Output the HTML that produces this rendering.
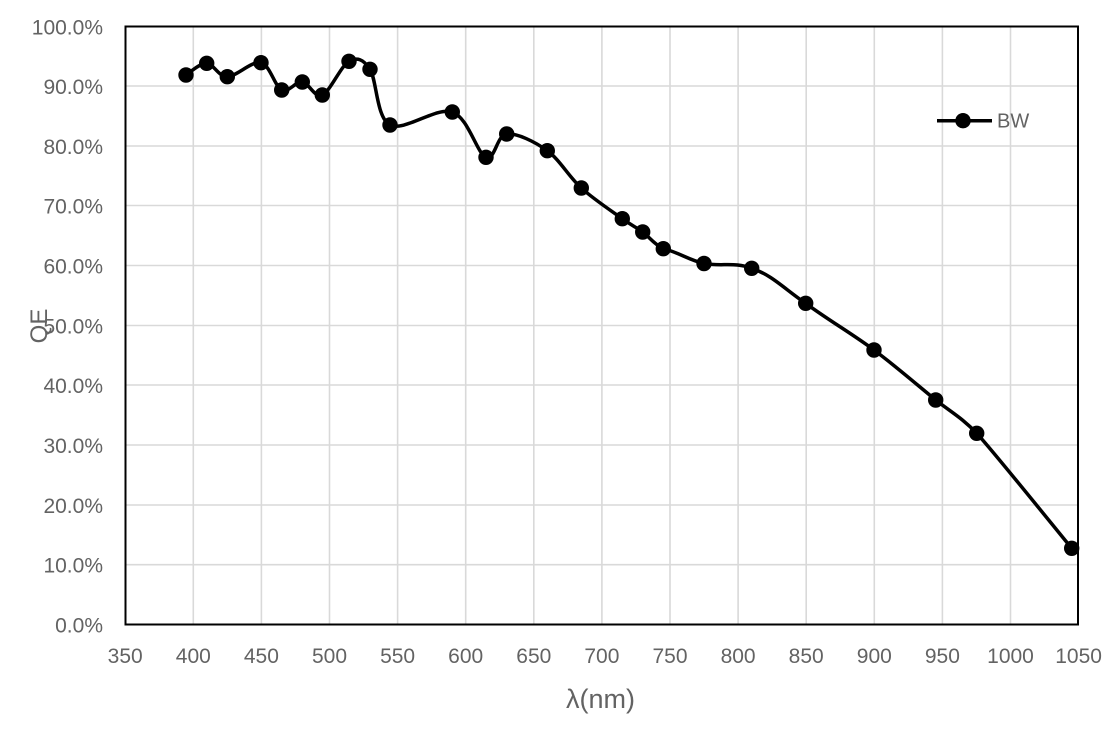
<!DOCTYPE html>
<html>
<head>
<meta charset="utf-8">
<style>
html,body{margin:0;padding:0;background:#fff;}
svg{display:block;}
text{font-family:"Liberation Sans",Arial,sans-serif;fill:#636363;}
</style>
</head>
<body>
<svg width="1110" height="738" viewBox="0 0 1110 738" xmlns="http://www.w3.org/2000/svg">
  <rect width="1110" height="738" fill="#fff"/>
  <g stroke="#d9d9d9" stroke-width="1.6">
    <line x1="193.3" y1="26" x2="193.3" y2="624.5"/>
    <line x1="261.4" y1="26" x2="261.4" y2="624.5"/>
    <line x1="329.5" y1="26" x2="329.5" y2="624.5"/>
    <line x1="397.6" y1="26" x2="397.6" y2="624.5"/>
    <line x1="465.7" y1="26" x2="465.7" y2="624.5"/>
    <line x1="533.8" y1="26" x2="533.8" y2="624.5"/>
    <line x1="601.9" y1="26" x2="601.9" y2="624.5"/>
    <line x1="670.0" y1="26" x2="670.0" y2="624.5"/>
    <line x1="738.1" y1="26" x2="738.1" y2="624.5"/>
    <line x1="806.2" y1="26" x2="806.2" y2="624.5"/>
    <line x1="874.3" y1="26" x2="874.3" y2="624.5"/>
    <line x1="942.4" y1="26" x2="942.4" y2="624.5"/>
    <line x1="1010.5" y1="26" x2="1010.5" y2="624.5"/>
    <line x1="125.5" y1="86" x2="1078" y2="86"/>
    <line x1="125.5" y1="146" x2="1078" y2="146"/>
    <line x1="125.5" y1="205.5" x2="1078" y2="205.5"/>
    <line x1="125.5" y1="265.5" x2="1078" y2="265.5"/>
    <line x1="125.5" y1="325.5" x2="1078" y2="325.5"/>
    <line x1="125.5" y1="385" x2="1078" y2="385"/>
    <line x1="125.5" y1="445" x2="1078" y2="445"/>
    <line x1="125.5" y1="505" x2="1078" y2="505"/>
    <line x1="125.5" y1="564.7" x2="1078" y2="564.7"/>
  </g>
  <rect x="125.5" y="26.5" width="952.5" height="598" fill="none" stroke="#000" stroke-width="2"/>

  <g font-size="21" text-anchor="end">
    <text x="103" y="34.5">100.0%</text>
    <text x="103" y="94">90.0%</text>
    <text x="103" y="154">80.0%</text>
    <text x="103" y="213.5">70.0%</text>
    <text x="103" y="273.5">60.0%</text>
    <text x="103" y="333.5">50.0%</text>
    <text x="103" y="393">40.0%</text>
    <text x="103" y="453">30.0%</text>
    <text x="103" y="513">20.0%</text>
    <text x="103" y="572.7">10.0%</text>
    <text x="103" y="632.5">0.0%</text>
  </g>
  <g font-size="21" text-anchor="middle">
    <text x="125.2" y="663">350</text>
    <text x="193.3" y="663">400</text>
    <text x="261.4" y="663">450</text>
    <text x="329.5" y="663">500</text>
    <text x="397.6" y="663">550</text>
    <text x="465.7" y="663">600</text>
    <text x="533.8" y="663">650</text>
    <text x="601.9" y="663">700</text>
    <text x="670.0" y="663">750</text>
    <text x="738.1" y="663">800</text>
    <text x="806.2" y="663">850</text>
    <text x="874.3" y="663">900</text>
    <text x="942.4" y="663">950</text>
    <text x="1010.5" y="663">1000</text>
    <text x="1078.6" y="663">1050</text>
  </g>
  <text x="600.5" y="708" font-size="27" text-anchor="middle">λ(nm)</text>
  <text transform="translate(47,326) rotate(-90)" font-size="24" text-anchor="middle">QE</text>

  <path fill="none" stroke="#000" stroke-width="3.5" stroke-linejoin="round" stroke-linecap="round"
    d="M186,75
    C189.45,73.05 199.82,63.02 206.7,63.3
    C213.58,63.58 218.25,76.8 227.3,76.7
    C236.35,76.6 251.93,60.48 261,62.7
    C270.07,64.92 274.82,86.78 281.7,90
    C288.58,93.22 295.53,81.17 302.3,82
    C309.07,82.83 314.52,98.45 322.3,95
    C330.08,91.55 341.05,65.58 349,61.3
    C356.95,57.02 363.17,58.68 370,69.3
    C376.83,79.92 376.28,117.88 390,125
    C403.72,132.12 436.3,106.62 452.3,112
    C468.3,117.38 476.93,153.63 486,157.3
    C495.07,160.97 496.48,135.1 506.7,134
    C516.92,132.9 534.87,141.7 547.3,150.7
    C559.73,159.7 568.8,176.67 581.3,188
    C593.8,199.33 612.07,211.37 622.3,218.7
    C632.53,226.03 635.87,227 642.7,232
    C649.53,237 653.08,243.45 663.3,248.7
    C678.03,251.97 689.27,260.23 704,263.5
    C720.95,266.77 734.75,261.67 751.7,268.3
    C772.08,274.93 785.32,289.68 805.7,303.3
    C827.37,319.42 852.33,333.88 874,350
    C895.67,366.12 918.58,386.12 935.7,400
    C950.82,411.88 962.7,418.3 976.7,433.3
    C991.7,449.3 1055.87,529.13 1071.7,548.3"/>

  <g fill="#000">
    <circle cx="186" cy="75" r="7.7"/>
    <circle cx="206.7" cy="63.3" r="7.7"/>
    <circle cx="227.3" cy="76.7" r="7.7"/>
    <circle cx="261" cy="62.7" r="7.7"/>
    <circle cx="281.7" cy="90" r="7.7"/>
    <circle cx="302.3" cy="82" r="7.7"/>
    <circle cx="322.3" cy="95" r="7.7"/>
    <circle cx="349" cy="61.3" r="7.7"/>
    <circle cx="370" cy="69.3" r="7.7"/>
    <circle cx="390" cy="125" r="7.7"/>
    <circle cx="452.3" cy="112" r="7.7"/>
    <circle cx="486" cy="157.3" r="7.7"/>
    <circle cx="506.7" cy="134" r="7.7"/>
    <circle cx="547.3" cy="150.7" r="7.7"/>
    <circle cx="581.3" cy="188" r="7.7"/>
    <circle cx="622.3" cy="218.7" r="7.7"/>
    <circle cx="642.7" cy="232" r="7.7"/>
    <circle cx="663.3" cy="248.7" r="7.7"/>
    <circle cx="704" cy="263.5" r="7.7"/>
    <circle cx="751.7" cy="268.3" r="7.7"/>
    <circle cx="805.7" cy="303.3" r="7.7"/>
    <circle cx="874" cy="350" r="7.7"/>
    <circle cx="935.7" cy="400" r="7.7"/>
    <circle cx="976.7" cy="433.3" r="7.7"/>
    <circle cx="1071.7" cy="548.3" r="7.7"/>
  </g>

  <line x1="937" y1="120.7" x2="992" y2="120.7" stroke="#000" stroke-width="3.5"/>
  <circle cx="963" cy="120.7" r="7.7" fill="#000"/>
  <text x="997" y="127.5" font-size="20">BW</text>
</svg>
</body>
</html>
